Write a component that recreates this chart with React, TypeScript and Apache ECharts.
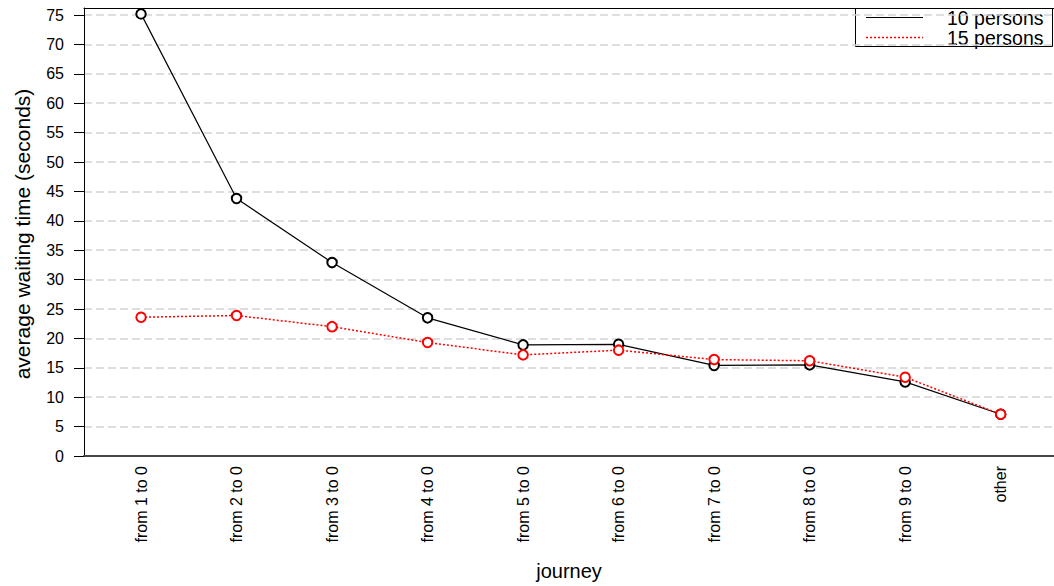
import React, { useEffect, useRef } from "react";
import * as echarts from "echarts";

// Journeys on the x axis (in plotting order)
const journeys = [
  "from 1 to 0",
  "from 2 to 0",
  "from 3 to 0",
  "from 4 to 0",
  "from 5 to 0",
  "from 6 to 0",
  "from 7 to 0",
  "from 8 to 0",
  "from 9 to 0",
  "other",
];

// Average waiting time (seconds) per journey
const wait10 = [75.2, 43.8, 32.9, 23.5, 18.9, 19.0, 15.4, 15.5, 12.6, 7.1];
const wait15 = [23.6, 23.9, 22.0, 19.3, 17.2, 18.0, 16.4, 16.2, 13.4, 7.1];

const seriesNames = ["10 persons", "15 persons"];
const yTicks = [0, 5, 10, 15, 20, 25, 30, 35, 40, 45, 50, 55, 60, 65, 70, 75];
const xTicks = journeys.map((_, i) => i);

const FONT = "'Liberation Sans', Arial, Helvetica, sans-serif";

export default function App() {
  const ref = useRef<HTMLDivElement>(null);

  useEffect(() => {
    if (!ref.current) return;
    const chart = echarts.init(ref.current, null, { renderer: "svg" });

    const toPoints = (vals: number[]) => vals.map((v, i) => [i, v]);
    const xMin = -0.597;
    const xMax = 9.558;

    chart.setOption({
      animation: false,
      backgroundColor: "#ffffff",
      textStyle: { fontFamily: FONT },
      grid: {
        left: 84,
        right: 0,
        top: 8,
        bottom: 130,
        containLabel: false,
        outerBoundsMode: "none",
      },
      xAxis: [
        {
          type: "value",
          min: xMin,
          max: xMax,
          position: "bottom",
          axisLine: { show: true, onZero: false, lineStyle: { color: "#444", width: 2 } },
          axisTick: { show: false },
          splitLine: { show: false },
          axisLabel: {
            customValues: xTicks,
            formatter: (v: number) => journeys[Math.round(v)] ?? "",
            rotate: 90,
            margin: 10,
            fontSize: 16,
            color: "#000",
            fontFamily: FONT,
          },
        },
        {
          // top frame line
          type: "value",
          min: xMin,
          max: xMax,
          position: "top",
          axisLine: { show: true, onZero: false, lineStyle: { color: "#000", width: 1 } },
          axisTick: { show: false },
          axisLabel: { show: false },
          splitLine: { show: false },
        },
      ],
      yAxis: {
        type: "value",
        min: 0,
        max: 76.2,
        axisLine: { show: true, onZero: false, lineStyle: { color: "#000", width: 1 } },
        axisTick: {
          show: true,
          length: 10,
          customValues: yTicks,
          lineStyle: { color: "#000", width: 1 },
        },
        axisLabel: {
          customValues: yTicks,
          margin: 20,
          fontSize: 16,
          color: "#000",
          fontFamily: FONT,
        },
        splitLine: {
          show: true,
          lineStyle: { color: "#d3d3d3", width: 1.5, type: [8, 4] },
        },
      },
      series: [
        {
          name: seriesNames[0],
          type: "line",
          data: toPoints(wait10),
          xAxisIndex: 0,
          clip: false,
          symbol: "emptyCircle",
          symbolSize: 9.5,
          lineStyle: { color: "#000", width: 1.2, type: "solid" },
          itemStyle: { color: "#000", borderColor: "#000", borderWidth: 1 },
        },
        {
          name: seriesNames[1],
          type: "line",
          data: toPoints(wait15),
          xAxisIndex: 0,
          clip: false,
          symbol: "emptyCircle",
          symbolSize: 9.5,
          lineStyle: { color: "#ff0000", width: 1.5, type: [2, 2] },
          itemStyle: { color: "#ff0000", borderColor: "#ff0000", borderWidth: 1.1 },
        },
      ],
      graphic: [
        {
          type: "text",
          x: 22,
          y: 234,
          rotation: Math.PI / 2,
          style: {
            text: "average waiting time (seconds)",
            fontSize: 21,
            fontFamily: FONT,
            fill: "#000",
            align: "center",
            verticalAlign: "middle",
          },
        },
        {
          type: "text",
          x: 569,
          y: 571,
          style: {
            text: "journey",
            fontSize: 20,
            fontFamily: FONT,
            fill: "#000",
            align: "center",
            verticalAlign: "middle",
          },
        },
        // legend box
        {
          type: "group",
          z: 100,
          children: [
            {
              type: "rect",
              shape: { x: 855.5, y: 8.5, width: 197, height: 38 },
              style: { fill: "#fff", stroke: "#000", lineWidth: 1 },
            },
            {
              type: "line",
              shape: { x1: 866, y1: 17.5, x2: 923, y2: 17.5 },
              style: { stroke: "#000", lineWidth: 1.2 },
            },
            {
              type: "line",
              shape: { x1: 866, y1: 37.5, x2: 923, y2: 37.5 },
              style: { stroke: "#ff0000", lineWidth: 1.5, lineDash: [2, 2] },
            },
            {
              type: "text",
              x: 947,
              y: 18,
              style: {
                text: seriesNames[0],
                fontSize: 19.5,
                lineHeight: 19,
                fontFamily: FONT,
                fill: "#000",
                align: "left",
                verticalAlign: "middle",
              },
            },
            {
              type: "text",
              x: 947,
              y: 38,
              style: {
                text: seriesNames[1],
                fontSize: 19.5,
                lineHeight: 19,
                fontFamily: FONT,
                fill: "#000",
                align: "left",
                verticalAlign: "middle",
              },
            },
          ],
        },
      ],
    });

    return () => chart.dispose();
  }, []);

  return (
    <div
      ref={ref}
      style={{ position: "absolute", left: 0, top: 0, width: 1054, height: 586 }}
    />
  );
}
